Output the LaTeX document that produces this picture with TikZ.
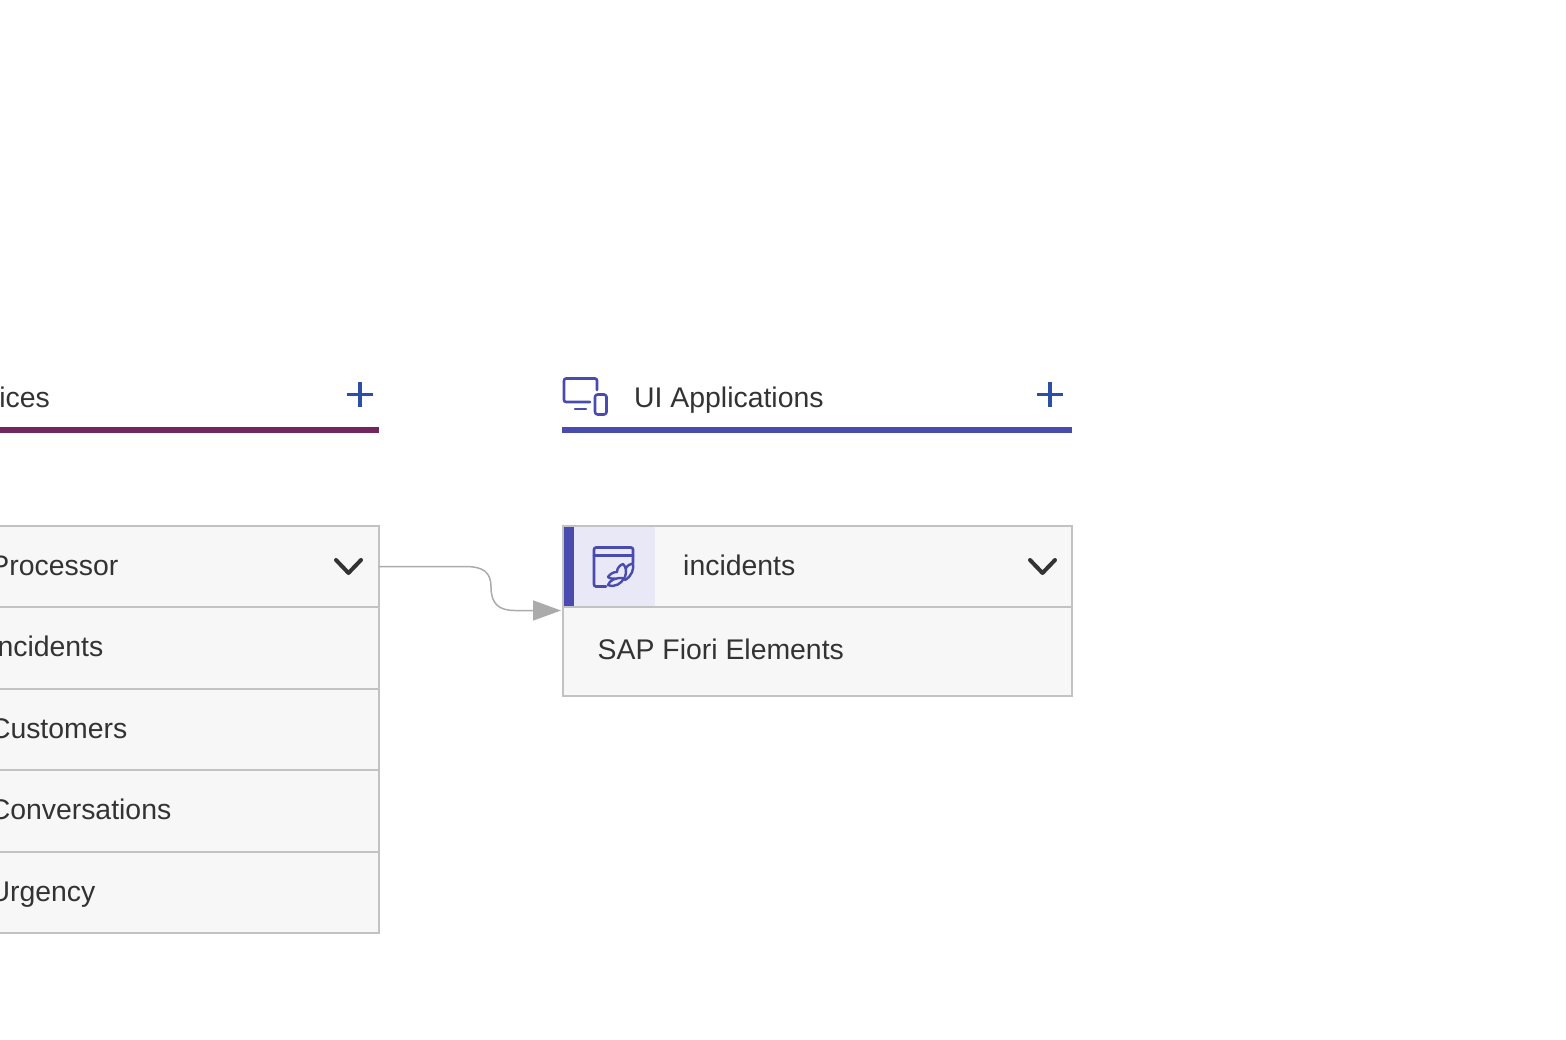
\documentclass[tikz,border=0pt]{standalone}
\usepackage{fontspec}
\setmainfont{Liberation Sans}
\usetikzlibrary{arrows.meta}
\definecolor{inkc}{HTML}{333333}
\definecolor{edgec}{HTML}{C2C2C2}
\definecolor{rowc}{HTML}{F7F7F7}
\definecolor{indigoc}{HTML}{4A4BAE}
\definecolor{tilec}{HTML}{E8E8F6}
\definecolor{plumc}{HTML}{72265F}
\definecolor{plusc}{HTML}{2A4FA5}
\definecolor{linkc}{HTML}{ABABAB}
\tikzset{
  rowbox/.style={draw=edgec,fill=rowc,line width=2pt,rectangle,anchor=north west,inner sep=0pt,outer sep=0pt,minimum width=#1},
  lab/.style={text=inkc,font=\fontsize{28.4}{32}\selectfont,inner sep=0pt},
  chev/.style={draw=inkc,line width=4pt,line cap=round,line join=round},
  plusmark/.style={draw=plusc,line width=3.5pt},
  icon/.style={draw=indigoc,line width=2.6pt,line cap=round,line join=round},
  leaf/.style={draw=indigoc,line width=2.4pt,line cap=round,line join=round},
  link/.style={draw=linkc,line width=1.5pt,-{Triangle[length=28pt,width=20pt,fill=linkc]}}
}
\begin{document}
\begin{tikzpicture}[x=1pt,y=-1pt]
\useasboundingbox (0,0) rectangle (1566,1040);
\clip (0,0) rectangle (1566,1040);
% left column
\node[lab,anchor=base east] (svc) at (50,407) {Services};
\fill[plumc] (-200,427) rectangle (379,433);
\draw[plusmark] (347,394.5) -- (373,394.5) (360,382) -- (360,407);
\foreach \n/\t in {a/526,b/607,c/688.5,d/770,e/851.5}{
  \node[rowbox=578.5pt,minimum height=81.5pt] (row\n) at (-200,\t) {};
}
\node[lab,anchor=base east] (ta) at (118.5,575) {Processor};
\node[lab,anchor=base east] (tb) at (103.5,656) {Incidents};
\node[lab,anchor=base east] (tc) at (127.5,738) {Customers};
\node[lab,anchor=base east] (td) at (171.5,819) {Conversations};
\node[lab,anchor=base east] (te) at (95.5,901) {Urgency};
\draw[chev] (336,560) -- (348.5,573) -- (361,560);
% right column
\node[lab,anchor=base west] (ui) at (634,407) {UI Applications};
\fill[indigoc] (562,427) rectangle (1072,433);
\draw[plusmark] (1037,394.5) -- (1063,394.5) (1050,382) -- (1050,407);
\draw[icon] (597,390) -- (597,380.5) arc (0:-90:2) -- (566,378.5) arc (-90:-180:2) -- (564,400) arc (180:90:2) -- (590,402);
\draw[icon] (575,409) -- (586,409);
\draw[icon,rounded corners=2.5pt] (595,394.5) rectangle (606.5,414.5);
\node[rowbox=509.5pt,minimum height=81pt] (head) at (562.5,526) {};
\node[rowbox=509.5pt,minimum height=88.5pt] (body) at (562.5,607) {};
\fill[tilec] (574,527) rectangle (655,606);
\fill[indigoc] (563.5,527) rectangle (574,606);
\draw[icon] (633,563) -- (633,549.5) arc (0:-90:2) -- (596,547.5) arc (-90:-180:2) -- (594,584.5) arc (180:90:2) -- (606,586.5);
\draw[icon] (594,555.5) -- (633,555.5);
\draw[leaf] (617,572) .. controls (613,572) and (610,574) .. (608,577) .. controls (611,579) and (613,579) .. (615,578.5);
\draw[leaf] (617,572) .. controls (617,568) and (620,565) .. (623,564) .. controls (626,567) and (627,571) .. (625,577);
\draw[leaf] (626,568) .. controls (628,565) and (630,564) .. (633,563.5) .. controls (634,569) and (632,576) .. (625,580);
\draw[leaf] (608,585) .. controls (610,580) and (615,577.5) .. (624,578) .. controls (622,583) and (615,588) .. (608,585);
\node[lab,anchor=base west] (inc) at (683,575) {incidents};
\draw[chev] (1030,560) -- (1042.5,573) -- (1055,560);
\node[lab,anchor=base west] (sap) at (597.5,659) {SAP Fiori Elements};
\coordinate (from) at (rowa.east |- 0,566.5);
\coordinate (to) at (561,610.5);
\draw[link] (from) -- (465,566.5) .. controls (483,566.5) and (491,572) .. (491,587) .. controls (491,604) and (499,610.5) .. (515,610.5) -- (to);
\end{tikzpicture}
\end{document}
